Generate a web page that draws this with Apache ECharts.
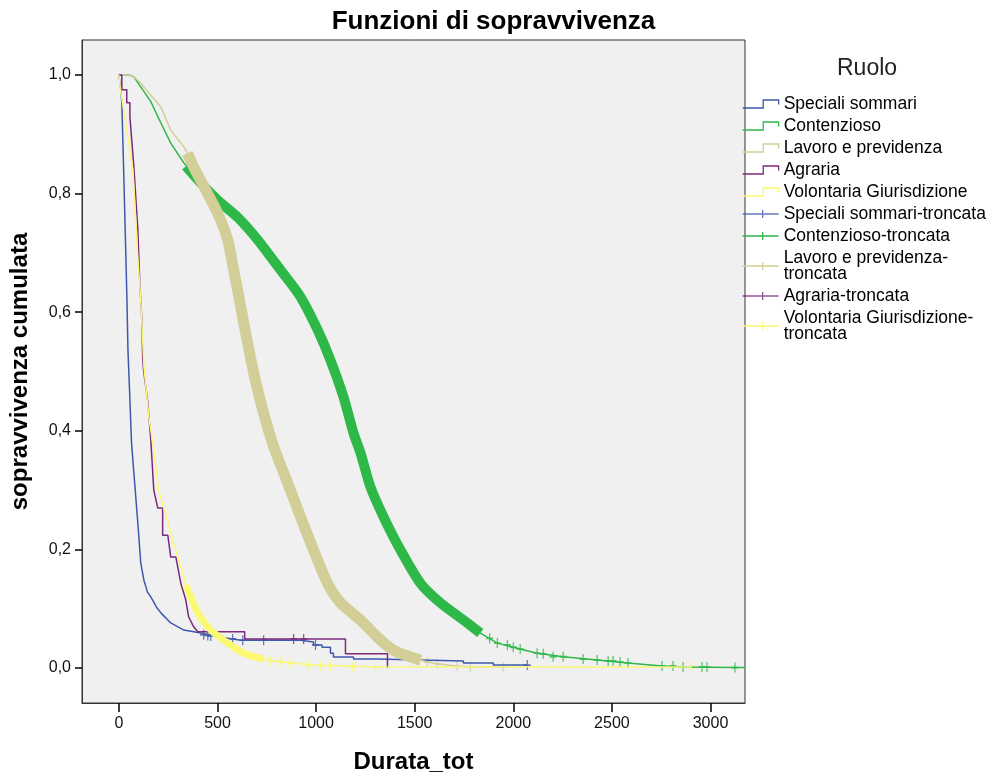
<!DOCTYPE html>
<html>
<head>
<meta charset="utf-8">
<script src="https://cdn.jsdelivr.net/npm/echarts@6/dist/echarts.min.js"></script>
<style>
  html, body { margin: 0; padding: 0; background: #ffffff; }
  #chart { width: 987px; height: 779px; }
</style>
</head>
<body>
<div id="chart"></div>
<script>
// Kaplan-Meier survival by "Ruolo": time in days (Durata_tot) vs cumulative survival.
const groups = ['Speciali sommari', 'Contenzioso', 'Lavoro e previdenza', 'Agraria', 'Volontaria Giurisdizione'];
const censoredSuffix = '-troncata';

const xTicks = [0, 500, 1000, 1500, 2000, 2500, 3000];
const yTicks = [0, 0.2, 0.4, 0.6, 0.8, 1.0];

// Survival curves [days, survival]
const specialiCurve = [
  [0, 1.0], [8, 0.98], [15, 0.953], [25, 0.83], [35, 0.70], [41, 0.62], [46, 0.536], [56, 0.452],
  [64, 0.38], [76, 0.329], [96, 0.245], [111, 0.177], [127, 0.148], [145, 0.128], [162, 0.12],
  [190, 0.103], [213, 0.093], [263, 0.076], [329, 0.064], [415, 0.059], [520, 0.052], [618, 0.047],
  [921, 0.047], [921, 0.044], [987, 0.044], [987, 0.039], [1030, 0.039], [1030, 0.035], [1073, 0.035],
  [1073, 0.025], [1088, 0.025], [1088, 0.0185], [1190, 0.0185], [1190, 0.015], [1311, 0.015],
  [1311, 0.012], [1747, 0.012], [1747, 0.0084], [1899, 0.0084], [1899, 0.005], [2071, 0.005]
];
const contenziosoCurve = [
  [0, 1.0], [50, 1.0], [76, 0.997], [111, 0.98], [162, 0.955], [213, 0.919], [263, 0.885],
  [329, 0.852], [350, 0.843], [415, 0.818], [501, 0.789], [602, 0.76], [704, 0.722], [820, 0.671],
  [921, 0.626], [1008, 0.57], [1073, 0.519], [1139, 0.457], [1190, 0.396], [1225, 0.363],
  [1276, 0.305], [1342, 0.255], [1428, 0.199], [1529, 0.143], [1630, 0.11], [1767, 0.076],
  [1833, 0.059], [1919, 0.042], [2000, 0.035], [2121, 0.025], [2253, 0.019], [2425, 0.0135],
  [2582, 0.0084], [2754, 0.0034], [2861, 0.0017], [3124, 0.0008], [3175, 0.0008]
];
const lavoroCurve = [
  [0, 1.0], [50, 1.0], [76, 0.997], [111, 0.986], [162, 0.966], [213, 0.946], [263, 0.907],
  [329, 0.879], [348, 0.868], [379, 0.845], [450, 0.80], [501, 0.767], [552, 0.722], [577, 0.68],
  [602, 0.637], [633, 0.582], [684, 0.497], [734, 0.43], [785, 0.373], [856, 0.312], [921, 0.255],
  [987, 0.199], [1058, 0.143], [1124, 0.11], [1225, 0.081], [1311, 0.052], [1392, 0.030],
  [1494, 0.017], [1564, 0.010], [1615, 0.007], [1716, 0.003], [1782, 0.002], [1949, 0.002]
];
const agrariaCurve = [
  [0, 1.0], [15, 1.0], [15, 0.975], [40, 0.975], [40, 0.953], [56, 0.953], [56, 0.929], [66, 0.929],
  [76, 0.845], [96, 0.74], [106, 0.65], [116, 0.59], [121, 0.52], [126, 0.50], [146, 0.45],
  [162, 0.384], [177, 0.30], [197, 0.27], [222, 0.27], [222, 0.224], [248, 0.224], [263, 0.187],
  [289, 0.187], [314, 0.143], [339, 0.115], [354, 0.086], [380, 0.069], [400, 0.061],
  [638, 0.061], [638, 0.049], [1149, 0.049], [1149, 0.024], [1362, 0.024], [1362, 0.0]
];
const volontariaCurve = [
  [0, 1.0], [10, 0.97], [25, 0.94], [50, 0.885], [71, 0.84], [86, 0.755], [96, 0.693], [111, 0.62],
  [127, 0.508], [152, 0.423], [177, 0.368], [202, 0.30], [248, 0.245], [299, 0.187], [349, 0.132],
  [400, 0.093], [466, 0.064], [552, 0.042], [633, 0.025], [754, 0.0135], [871, 0.0084],
  [987, 0.005], [1291, 0.002], [2906, 0.0017]
];

// Runs of densely packed censored cases [days, survival]
const contenziosoCensoredRun = [
  [340, 0.846], [415, 0.818], [501, 0.789], [602, 0.76], [704, 0.722], [820, 0.671], [921, 0.626],
  [1008, 0.57], [1073, 0.519], [1139, 0.457], [1190, 0.396], [1225, 0.363], [1276, 0.305],
  [1342, 0.255], [1428, 0.199], [1529, 0.143], [1630, 0.11], [1767, 0.076], [1833, 0.059]
];
const lavoroCensoredRun = [
  [348, 0.868], [379, 0.845], [450, 0.80], [501, 0.767], [552, 0.722], [577, 0.68], [602, 0.637],
  [633, 0.582], [684, 0.497], [734, 0.43], [785, 0.373], [856, 0.312], [921, 0.255], [987, 0.199],
  [1058, 0.143], [1124, 0.11], [1225, 0.081], [1311, 0.052], [1392, 0.030], [1494, 0.017], [1530, 0.013]
];
const volontariaCensoredRun = [
  [339, 0.14], [349, 0.132], [400, 0.093], [466, 0.064], [552, 0.042], [633, 0.025], [734, 0.015]
];

// Individual censored cases [days, survival]
const specialiCensored = [
  [430, 0.056], [451, 0.055], [466, 0.054], [577, 0.049], [628, 0.047], [734, 0.047], [997, 0.039], [2071, 0.005]
];
const contenziosoCensored = [
  [1880, 0.05], [1919, 0.042], [1970, 0.039], [2000, 0.035], [2035, 0.032], [2121, 0.025],
  [2152, 0.024], [2202, 0.019], [2253, 0.019], [2354, 0.015], [2425, 0.0135], [2481, 0.012],
  [2506, 0.012], [2542, 0.010], [2582, 0.0084], [2754, 0.0034], [2810, 0.0034], [2861, 0.0017],
  [2957, 0.0017], [2982, 0.0017], [3124, 0.0008]
];
const lavoroCensored = [
  [1564, 0.010], [1615, 0.007], [1716, 0.003], [1782, 0.002], [1949, 0.002]
];
const agrariaCensored = [
  [886, 0.049], [937, 0.049]
];
const volontariaCensored = [
  [770, 0.012], [820, 0.010], [871, 0.0084], [962, 0.005], [1023, 0.0034], [1073, 0.0034],
  [1185, 0.0017], [1301, 0.0017], [2906, 0.0017]
];

const palette = ['#3E58AC', '#2EB848', '#D3CE97', '#7C287D', '#FBF873'];
const curves = [specialiCurve, contenziosoCurve, lavoroCurve, agrariaCurve, volontariaCurve];
const censoredRuns = [null, contenziosoCensoredRun, lavoroCensoredRun, null, volontariaCensoredRun];
const runWidths = [0, 10, 11, 0, 7];
const censored = [specialiCensored, contenziosoCensored, lavoroCensored, agrariaCensored, volontariaCensored];

const FONT = '"Liberation Sans", Arial, sans-serif';
const plusSymbol = 'path://M0,5L8,5M4,0L4,10';
const stepIcon = 'path://M0,7L20,7L20,0L35,0L35,4';
const censorIcon = 'path://M0,4L36,4M20,0L20,8';

const series = [];
groups.forEach((g, i) => {
  series.push({
    name: g, type: 'line', data: curves[i], symbol: 'none', silent: true,
    lineStyle: { color: palette[i], width: 1.5 }, itemStyle: { color: palette[i] }
  });
});
groups.forEach((g, i) => {
  const name = g + censoredSuffix;
  if (censoredRuns[i]) {
    series.push({
      name, type: 'line', data: censoredRuns[i], symbol: 'none', silent: true, smooth: 0.25,
      lineStyle: { color: palette[i], width: runWidths[i], cap: 'butt', join: 'round' },
      itemStyle: { color: palette[i] }
    });
  }
  series.push({
    name, type: 'scatter', data: censored[i], symbol: plusSymbol, symbolSize: [7, 10], silent: true,
    itemStyle: { color: 'rgba(0,0,0,0)', borderColor: palette[i], borderWidth: 1.5 }
  });
});

const legendData = [];
groups.forEach((g, i) => legendData.push({
  name: g, icon: stepIcon,
  itemStyle: { color: 'rgba(0,0,0,0)', borderColor: palette[i], borderWidth: 1.3 }
}));
groups.forEach((g, i) => legendData.push({
  name: g + censoredSuffix, icon: censorIcon,
  itemStyle: { color: 'rgba(0,0,0,0)', borderColor: palette[i], borderWidth: 1.3 }
}));

const fmtComma = v => v.toFixed(1).replace('.', ',');

const chart = echarts.init(document.getElementById('chart'), null, { renderer: 'canvas' });
chart.setOption({
  animation: false,
  backgroundColor: '#ffffff',
  textStyle: { fontFamily: FONT },
  title: [
    { text: 'Funzioni di sopravvivenza', left: 'center', top: 4,
      textStyle: { fontFamily: FONT, fontSize: 26, fontWeight: 'bold', color: '#000' } },
    { text: 'Ruolo', left: 832, top: 52,
      textStyle: { fontFamily: FONT, fontSize: 23, fontWeight: 'normal', color: '#222' } }
  ],
  legend: {
    orient: 'vertical', left: 742, top: 95, padding: 0,
    itemWidth: 36, itemHeight: 8, itemGap: 4, selectedMode: false, symbolKeepAspect: false,
    data: legendData,
    formatter: name => name.endsWith(censoredSuffix) && name.length > 26
      ? name.replace(censoredSuffix, '-\ntroncata') : name,
    textStyle: { fontFamily: FONT, fontSize: 17.5, lineHeight: 16, color: '#000' }
  },
  grid: {
    left: 81, right: 242, top: 40, bottom: 76, show: true,
    backgroundColor: '#F0F0F0', borderColor: '#333', borderWidth: 1
  },
  xAxis: {
    type: 'value', min: -187, max: 3175,
    name: 'Durata_tot', nameLocation: 'middle', nameGap: 47,
    nameTextStyle: { fontFamily: FONT, fontSize: 24, fontWeight: 'bold', color: '#000' },
    axisLine: { show: true, onZero: false, lineStyle: { color: '#333', width: 1 } },
    axisTick: { show: true, customValues: xTicks, length: 9, lineStyle: { color: '#000', width: 1.5 } },
    axisLabel: { customValues: xTicks, formatter: v => String(v), fontSize: 16, color: '#111', margin: 13, fontFamily: FONT },
    splitLine: { show: false }
  },
  yAxis: {
    type: 'value', min: -0.059, max: 1.059,
    name: 'sopravvivenza cumulata', nameLocation: 'middle', nameGap: 50,
    nameTextStyle: { fontFamily: FONT, fontSize: 24, fontWeight: 'bold', color: '#000' },
    axisLine: { show: true, onZero: false, lineStyle: { color: '#333', width: 1 } },
    axisTick: { show: true, customValues: yTicks, length: 7, lineStyle: { color: '#000', width: 1.5 } },
    axisLabel: { customValues: yTicks, formatter: fmtComma, fontSize: 16, color: '#111', margin: 11, fontFamily: FONT },
    splitLine: { show: false }
  },
  series
});
</script>
</body>
</html>
